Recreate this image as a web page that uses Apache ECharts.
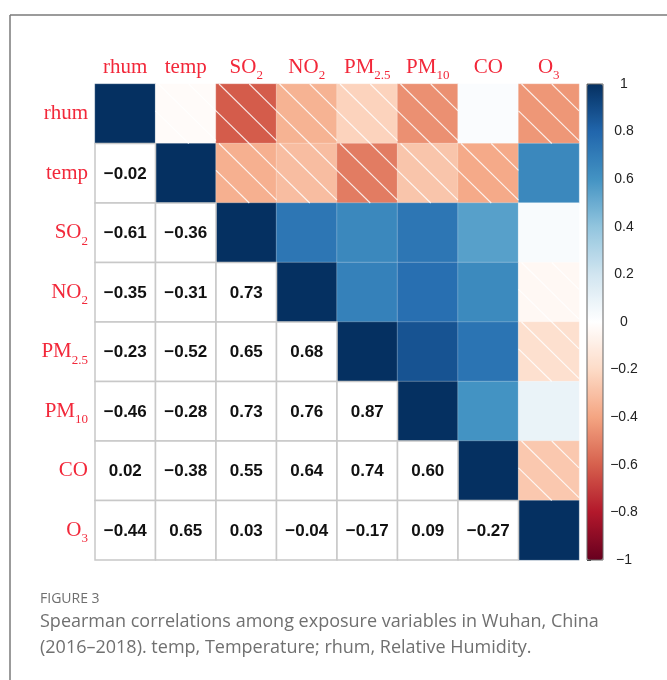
<!DOCTYPE html>
<html>
<head>
<meta charset="utf-8">
<script src="https://cdn.jsdelivr.net/npm/echarts@6/dist/echarts.min.js"></script>
<style>
html,body{margin:0;padding:0;background:#fff;}
#chart{width:667px;height:680px;}
</style>
</head>
<body>
<div id="chart"></div>
<script>
// ---- data ----
const variables = ['rhum', 'temp', 'SO_2', 'NO_2', 'PM_2.5', 'PM_10', 'CO', 'O_3'];
// lower-triangle rows (correlation with the preceding variables)
const row_temp = [-0.02];
const row_SO2  = [-0.61, -0.36];
const row_NO2  = [-0.35, -0.31, 0.73];
const row_PM25 = [-0.23, -0.52, 0.65, 0.68];
const row_PM10 = [-0.46, -0.28, 0.73, 0.76, 0.87];
const row_CO   = [0.02, -0.38, 0.55, 0.64, 0.74, 0.60];
const row_O3   = [-0.44, 0.65, 0.03, -0.04, -0.17, 0.09, -0.27];
const colorbarMin = -1, colorbarMax = 1, colorbarStep = 0.2;
const rdbu = ['#67001F', '#B2182B', '#D6604D', '#F4A582', '#FDDBC7', '#FFFFFF',
              '#D1E5F0', '#92C5DE', '#4393C3', '#2166AC', '#053061'];
const captionTitle = 'FIGURE 3';
const captionLines = ['Spearman correlations among exposure variables in Wuhan, China',
                      '(2016\u20132018). temp, Temperature; rhum, Relative Humidity.'];

// ---- build matrix ----
const lowerRows = [[], row_temp, row_SO2, row_NO2, row_PM25, row_PM10, row_CO, row_O3];
const n = variables.length;
const M = [];
for (let i = 0; i < n; i++) { M.push(new Array(n).fill(1)); }
for (let i = 0; i < n; i++) {
  for (let j = 0; j < i; j++) { M[i][j] = lowerRows[i][j]; M[j][i] = lowerRows[i][j]; }
}
const upperData = [], hatchData = [], lowerData = [];
for (let i = 0; i < n; i++) {
  for (let j = 0; j < n; j++) {
    if (j >= i) {
      upperData.push([j, i, M[i][j]]);
      if (M[i][j] < 0) hatchData.push([j, i, M[i][j]]);
    } else {
      lowerData.push([j, i, M[i][j]]);
    }
  }
}
const fmt = v => v.toFixed(2).replace('-', '\u2212');

const RED = '#f2283a';
function labelFmt(name) {
  const p = name.split('_');
  if (p.length === 1) return '{m|' + p[0] + '}';
  return '{m|' + p[0] + '}{s|' + p[1] + '}';
}
const rich = {
  m: { fontFamily: 'Liberation Serif', fontSize: 21, color: RED, lineHeight: 30 },
  s: { fontFamily: 'Liberation Serif', fontSize: 13, color: RED, lineHeight: 13, padding: [17, 0, 0, 0] }
};

const chart = echarts.init(document.getElementById('chart'), null, { renderer: 'canvas' });

function hatchItem(params, api) {
  const c = api.coord([api.value(0), api.value(1)]);
  const sz = api.size([1, 1]);
  const w = sz[0], h = sz[1];
  const x = c[0] - w / 2, y = c[1] - h / 2;
  const offs = [-0.45, 0.05, 0.55];
  const children = [];
  offs.forEach(o => {
    let x1, y1, x2, y2;
    if (o >= 0) { x1 = o; y1 = 0; x2 = 1; y2 = 1 - o; }
    else { x1 = 0; y1 = -o; x2 = 1 + o; y2 = 1; }
    children.push({
      type: 'line',
      shape: { x1: x + x1 * w, y1: y + y1 * h, x2: x + x2 * w, y2: y + y2 * h },
      style: { stroke: 'rgba(255,255,255,0.85)', lineWidth: 1.1 }
    });
  });
  return { type: 'group', children: children };
}

function lowerItem(params, api) {
  const c = api.coord([api.value(0), api.value(1)]);
  const sz = api.size([1, 1]);
  const w = sz[0], h = sz[1];
  return {
    type: 'group',
    children: [
      { type: 'rect', shape: { x: c[0] - w / 2, y: c[1] - h / 2, width: w, height: h },
        style: { fill: '#ffffff', stroke: '#c8c8c8', lineWidth: 1.5 } },
      { type: 'text', x: c[0], y: c[1] + 1,
        style: { text: fmt(api.value(2)), x: 0, y: 0, align: 'center', verticalAlign: 'middle',
                 font: 'bold 17px "Liberation Sans", Arial, sans-serif', fill: '#111111' } }
    ]
  };
}

const option = {
  backgroundColor: '#ffffff',
  animation: false,
  grid: [
    { left: 95, top: 84, width: 484, height: 476, containLabel: false },
    { left: 587, top: 84, width: 16, height: 476, show: true, z: 10,
      borderColor: '#666666', borderWidth: 1, backgroundColor: 'transparent' }
  ],
  xAxis: [
    { type: 'category', gridIndex: 0, data: variables, position: 'top',
      axisLine: { show: false }, axisTick: { show: false }, splitLine: { show: false },
      axisLabel: { formatter: labelFmt, rich: rich, margin: 2, interval: 0 } },
    { type: 'value', gridIndex: 1, show: false, min: 0, max: 1 }
  ],
  yAxis: [
    { type: 'category', gridIndex: 0, data: variables, inverse: true,
      axisLine: { show: false }, axisTick: { show: false }, splitLine: { show: false },
      axisLabel: { formatter: labelFmt, rich: rich, margin: 7, interval: 0 } },
    { type: 'value', gridIndex: 1, min: colorbarMin, max: colorbarMax, interval: colorbarStep,
      position: 'right', axisLine: { show: false }, splitLine: { show: false },
      axisTick: { show: true, length: 4, lineStyle: { color: '#333333', width: 1 } },
      axisLabel: { margin: 21, align: 'center', fontSize: 14, color: '#222222', fontFamily: 'Liberation Sans',
        formatter: v => String(Math.round(v * 10) / 10).replace('-', '\u2212') } }
  ],
  visualMap: {
    type: 'continuous', min: colorbarMin, max: colorbarMax, seriesIndex: 0,
    orient: 'vertical', left: 587, top: 84, itemWidth: 16, itemHeight: 476,
    padding: 0, calculable: false, hoverLink: false, text: null, showLabel: false,
    inRange: { color: rdbu }
  },
  series: [
    { type: 'heatmap', xAxisIndex: 0, yAxisIndex: 0, data: upperData,
      itemStyle: { borderColor: 'rgba(255,255,255,0.3)', borderWidth: 0.8 },
      label: { show: false }, emphasis: { disabled: true } },
    { type: 'custom', xAxisIndex: 0, yAxisIndex: 0, data: hatchData, renderItem: hatchItem, z: 3, silent: true },
    { type: 'custom', xAxisIndex: 0, yAxisIndex: 0, data: lowerData, renderItem: lowerItem, z: 4, silent: true }
  ],
  graphic: [
    { type: 'line', shape: { x1: 10, y1: 15, x2: 667, y2: 15 }, style: { stroke: '#7a7a7a', lineWidth: 1.5 } },
    { type: 'line', shape: { x1: 10, y1: 15, x2: 10, y2: 680 }, style: { stroke: '#7a7a7a', lineWidth: 1.5 } },
    { type: 'text', left: 40, top: 592,
      style: { text: captionTitle, font: '500 14px "Open Sans", sans-serif', fill: '#6f6f6f' } },
    { type: 'text', left: 40, top: 613,
      style: { text: captionLines[0], font: '18px "Open Sans", sans-serif', fill: '#707070' } },
    { type: 'text', left: 40, top: 639,
      style: { text: captionLines[1], font: '18px "Open Sans", sans-serif', fill: '#707070' } }
  ]
};
chart.setOption(option);
</script>
</body>
</html>
